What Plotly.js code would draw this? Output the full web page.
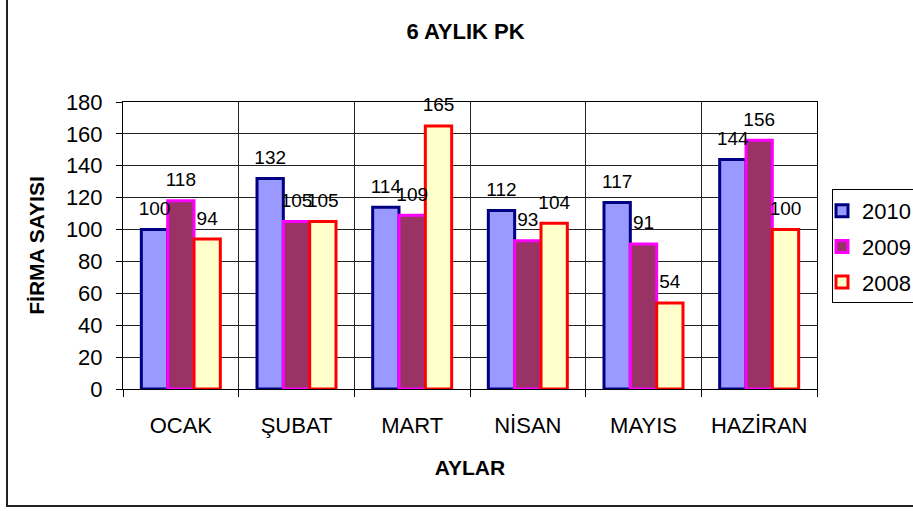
<!DOCTYPE html>
<html>
<head>
<meta charset="utf-8">
<script src="https://cdn.plot.ly/plotly-3.0.1.min.js"></script>
<style>
  html, body { margin: 0; padding: 0; background: #fff; overflow: hidden; }
  #wrap { position: relative; width: 913px; height: 511px; }
  #chart { width: 913px; height: 511px; }
  #frame { position: absolute; left: 6px; top: -3px; width: 920px; height: 510px;
           border-left: 2px solid #222; border-bottom: 2px solid #222; border-top: 2px solid #222;
           pointer-events: none; box-sizing: border-box; }
  #legendbox { position: absolute; left: 832px; top: 189px; width: 120px; height: 114px;
           border: 1px solid #000; pointer-events: none; box-sizing: border-box; }
</style>
</head>
<body>
<div id="wrap">
  <div id="chart"></div>
  <div id="legendbox"></div>
  <div id="frame"></div>
</div>
<script>
var categories = ["OCAK", "ŞUBAT", "MART", "NİSAN", "MAYIS", "HAZİRAN"];
var seriesNames = ["2010", "2009", "2008"];
var values2010 = [100, 132, 114, 112, 117, 144];
var values2009 = [118, 105, 109, 93, 91, 156];
var values2008 = [94, 105, 165, 104, 54, 100];
var yTicks = [0, 20, 40, 60, 80, 100, 120, 140, 160, 180];

var allValues = [values2010, values2009, values2008];
var fills = ["#9999FF", "#993366", "#FFFFCC"];
var lines = ["#000080", "#FF00FF", "#FF0000"];

var font = "Liberation Sans, Arial, sans-serif";
var traces = [];
for (var i = 0; i < 3; i++) {
  traces.push({
    type: "bar",
    name: seriesNames[i],
    x: categories,
    y: allValues[i],
    offsetgroup: String(i),
    legendgroup: "g" + i,
    marker: { color: fills[i], line: { color: lines[i], width: 3 } },
    hoverinfo: "y"
  });
}
for (var j = 0; j < 3; j++) {
  traces.push({
    type: "scatter",
    mode: "markers+text",
    x: categories,
    y: allValues[j],
    offsetgroup: String(j),
    text: allValues[j].map(String),
    textposition: "top center",
    textfont: { family: font, size: 19, color: "#000" },
    marker: { size: 14, color: "rgba(0,0,0,0)", line: { width: 0 } },
    showlegend: false,
    hoverinfo: "skip",
    cliponaxis: false
  });
}

var layout = {
  width: 913,
  height: 511,
  margin: { l: 123, r: 96, t: 102, b: 122 },
  paper_bgcolor: "#fff",
  plot_bgcolor: "#fff",
  font: { family: font, size: 22, color: "#000" },
  barmode: "group",
  bargap: 0.317,
  bargroupgap: 0,
  scattermode: "group",
  scattergap: 0.317,
  showlegend: true,
  title: {
    text: "<b>6 AYLIK PK</b>",
    font: { family: font, size: 22, color: "#000" },
    xref: "container", x: 465.5 / 913, xanchor: "center",
    yref: "container", y: 1 - 31.5 / 511, yanchor: "middle"
  },
  xaxis: {
    type: "category",
    tickson: "boundaries",
    ticks: "outside",
    ticklen: 7,
    tickcolor: "#000",
    tickwidth: 1,
    showgrid: true,
    gridcolor: "#222",
    gridwidth: 1,
    showline: true,
    linecolor: "#000",
    linewidth: 1,
    mirror: true,
    ticklabelstandoff: 17,
    tickfont: { family: font, size: 22, color: "#000" },
    title: { text: "<b>AYLAR</b>", font: { family: font, size: 21, color: "#000" }, standoff: 22 },
    fixedrange: true
  },
  yaxis: {
    range: [0, 180],
    tickvals: yTicks,
    ticks: "outside",
    ticklen: 6,
    tickcolor: "#000",
    showgrid: true,
    gridcolor: "#222",
    gridwidth: 1,
    zeroline: false,
    showline: true,
    linecolor: "#000",
    linewidth: 1,
    mirror: true,
    ticklabelstandoff: 9,
    tickfont: { family: font, size: 22, color: "#000" },
    title: { text: "<b>FİRMA SAYISI</b>", font: { family: font, size: 21, color: "#000" }, standoff: 15 },
    fixedrange: true
  },
  legend: {
    xref: "container",
    yref: "container",
    x: 822 / 913,
    xanchor: "left",
    y: 1 - 190 / 511,
    yanchor: "top",
    bgcolor: "rgba(0,0,0,0)",
    borderwidth: 0,
    font: { family: font, size: 22, color: "#000" },
    tracegroupgap: 4,
    itemwidth: 30
  }
};

Plotly.newPlot("chart", traces, layout, { displayModeBar: false, staticPlot: true });
</script>
</body>
</html>
